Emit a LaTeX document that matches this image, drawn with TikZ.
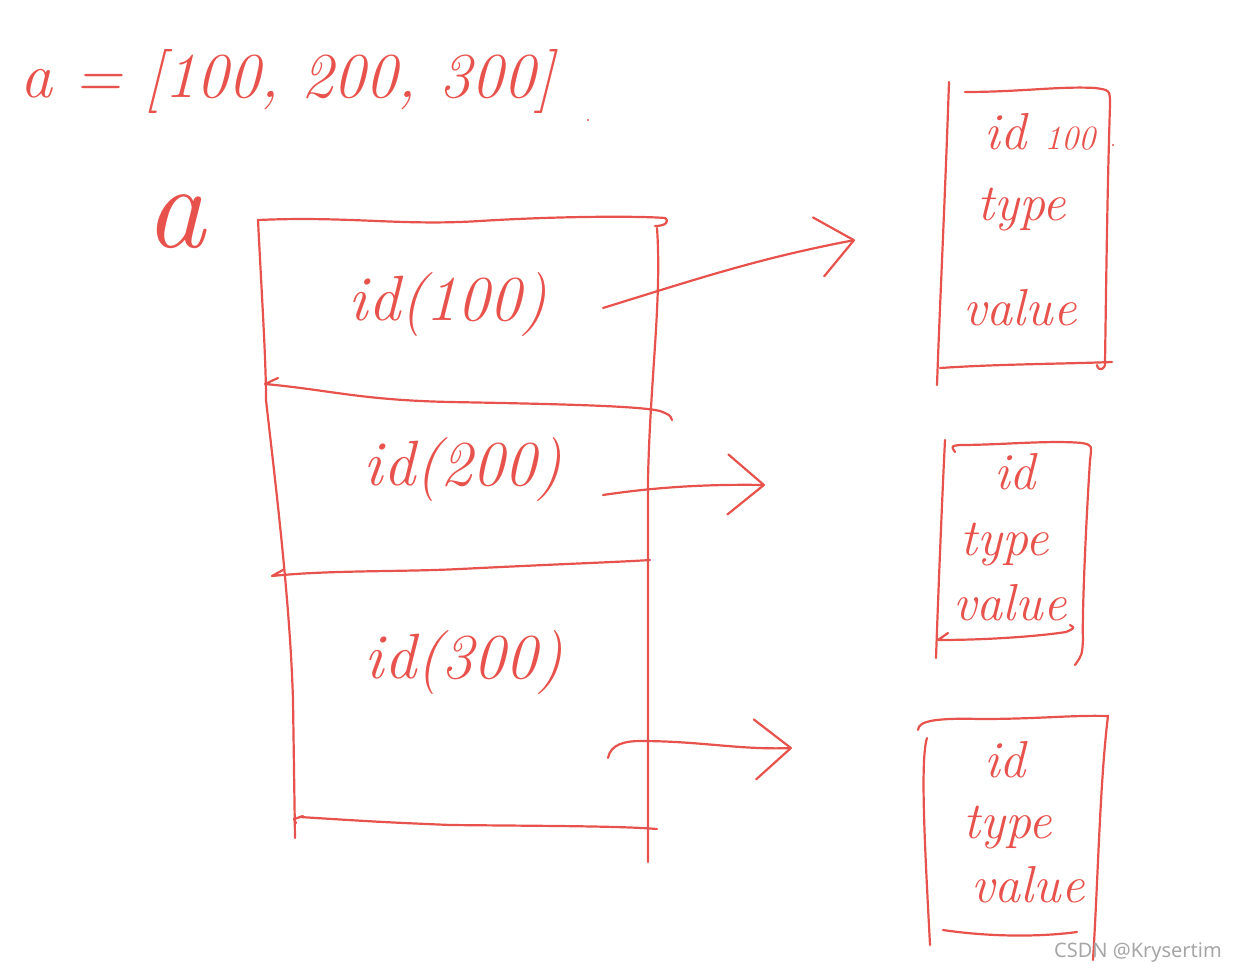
\documentclass[tikz,border=0pt]{standalone}
\usepackage{fontspec}
\newfontfamily\wmfont{Noto Sans}
\usetikzlibrary{arrows.meta}
\definecolor{pen}{HTML}{E8524C}
\begin{document}
\begin{tikzpicture}[x=1pt,y=-1pt,
  stroke/.style={draw=pen,line width=2.2pt,line cap=round,line join=round},
  hand/.style={text=pen,font={\fontsize{#1}{#1}\selectfont\itshape},inner sep=0pt},
  link/.style={stroke,-{Straight Barb[length=36pt,width=60pt,round]}}
]
\useasboundingbox (0,0) rectangle (1237,974);

% title and label
\node[hand=64,anchor=base west] (title) at (20,97) {a = [100, 200, 300]};
\node[hand=120] (alabel) at (175,222) {a};
\fill[pen] (588,120) circle (1.2);

% big box (array)
\draw[stroke] (258,220) .. controls (262,300) and (266,360) .. (266,400) .. controls (275,480) and (290,600) .. (293,700) -- (295,838);
\draw[stroke] (258,220) .. controls (350,216) and (400,226) .. (480,221) .. controls (560,216) and (640,216) .. (665,218) .. controls (670,222) and (665,226) .. (655,226);
\draw[stroke] (657,228) .. controls (662,300) and (650,380) .. (648,480) -- (648,862);
\draw[stroke] (278,378) -- (265,384) .. controls (330,390) and (360,400) .. (450,402) .. controls (560,404) and (640,406) .. (660,411) .. controls (670,415) .. (672,420);
\draw[stroke] (283,570) -- (272,576) .. controls (330,570) and (400,572) .. (460,569) .. controls (560,564) and (620,562) .. (650,560);
\draw[stroke] (303,816) -- (294,819) -- (296,823);
\draw[stroke] (300,817) .. controls (380,822) .. (450,825) .. controls (550,826) and (620,826) .. (657,829);

\node[hand=64] (t1) at (448,305) {id(100)};
\node[hand=64] (t2) at (463,470) {id(200)};
\node[hand=64] (t3) at (464,663) {id(300)};

% arrows
\coordinate (s1) at (603,308);
\coordinate (e1) at (855,240);
\coordinate (s2) at (603,495);
\coordinate (e2) at (765,485);
\coordinate (s3) at (608,758);
\coordinate (e3) at (792,748);
\draw[link] (s1) .. controls (700,278) and (760,258) .. (e1);
\draw[link] (s2) .. controls (650,488) and (700,484) .. (e2);
\draw[link] (s3) to[out=80,in=180] (640,741) .. controls (700,741) and (740,750) .. (e3);

% box 1
\draw[stroke] (949,82) .. controls (945,200) and (940,300) .. (937,385);
\draw[stroke] (965,92) .. controls (1020,92) and (1060,86) .. (1095,88) .. controls (1110,90) .. (1110,105) .. controls (1107,200) and (1106,300) .. (1105,362) .. controls (1106,370) and (1098,372) .. (1097,365);
\draw[stroke] (940,368) .. controls (1000,364) and (1060,364) .. (1112,362);
\fill[pen] (1113,145) circle (1.2);
\node[hand=52] (b1id) at (1040,132) {id {\fontsize{34}{34}\selectfont 100}};
\node[hand=52] (b1type) at (1022,210) {type};
\node[hand=52] (b1value) at (1020,308) {value};

% box 2
\draw[stroke] (945,440) .. controls (942,500) and (938,600) .. (936,658);
\draw[stroke] (955,452) .. controls (951,446) .. (960,445) .. controls (1000,445) and (1050,440) .. (1082,443) .. controls (1092,445) .. (1090,460) .. controls (1085,540) and (1082,620) .. (1083,640) .. controls (1082,655) .. (1075,665);
\draw[stroke] (948,633) -- (938,640) .. controls (990,640) and (1040,636) .. (1066,632) .. controls (1075,628) .. (1070,625);
\node[hand=52] (b2id) at (1015,472) {id};
\node[hand=52] (b2type) at (1005,545) {type};
\node[hand=52] (b2value) at (1010,603) {value};

% box 3
\draw[stroke] (918,730) .. controls (918,720) and (940,718) .. (980,719) .. controls (1040,719) and (1070,715) .. (1108,716) .. controls (1100,780) and (1098,880) .. (1093,960);
\draw[stroke] (927,738) .. controls (920,760) and (925,850) .. (930,945);
\draw[stroke] (943,930) .. controls (990,937) and (1040,937) .. (1077,932);
\node[hand=52] (b3id) at (1005,760) {id};
\node[hand=52] (b3type) at (1008,828) {type};
\node[hand=52] (b3value) at (1028,885) {value};

% watermark
\node[font={\fontsize{20}{20}\selectfont\wmfont},text=gray!70,anchor=east,inner sep=0pt] (wm) at (1222,953) {CSDN @Krysertim};
\end{tikzpicture}
\end{document}
